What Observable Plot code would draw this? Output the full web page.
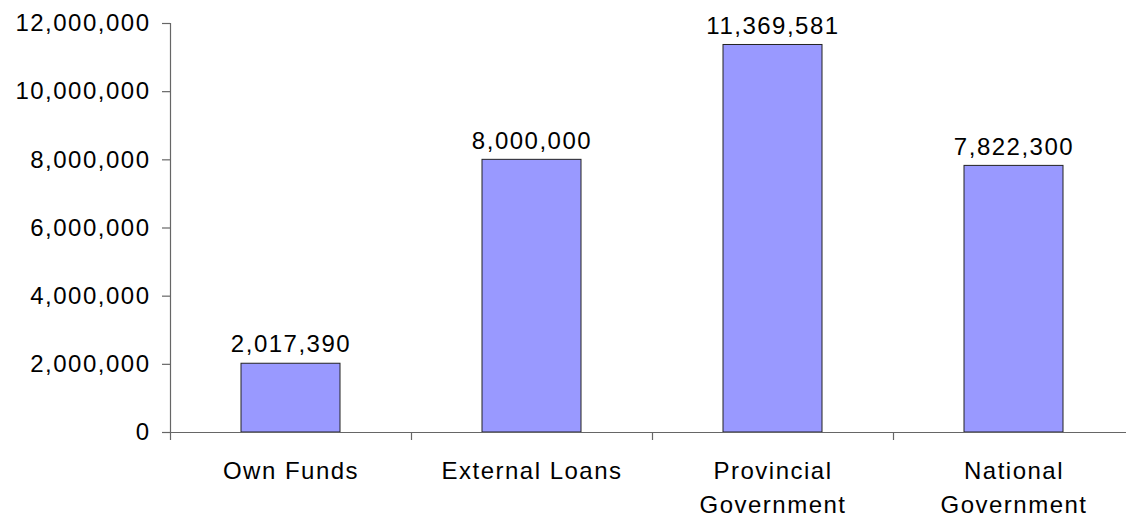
<!DOCTYPE html>
<html>
<head>
<meta charset="utf-8">
<script src="https://cdn.jsdelivr.net/npm/d3@7"></script>
<script src="https://cdn.jsdelivr.net/npm/@observablehq/plot@0.6"></script>
<style>
  html, body { margin: 0; padding: 0; background: #fff; }
  #chart svg { display: block; }
</style>
</head>
<body>
<div id="chart"></div>
<script>
const categories = ["Own Funds", "External Loans", "Provincial Government", "National Government"];
const categoryLabels = ["Own Funds", "External Loans", "Provincial\nGovernment", "National\nGovernment"];
const values = [2017390, 8000000, 11369581, 7822300];
const yTicks = [0, 2000000, 4000000, 6000000, 8000000, 10000000, 12000000];

const data = categories.map((c, i) => ({category: c, label: categoryLabels[i], value: values[i]}));
const fmt = d3.format(",");
const labelOf = new Map(categories.map((c, i) => [c, categoryLabels[i]]));

const W = 1126, H = 518;
const font = "Liberation Sans, Arial, sans-serif";
const step = 241;

const chart = Plot.plot({
  width: W,
  height: H,
  marginLeft: 170,
  marginRight: 0,
  marginTop: 23,
  marginBottom: 86,
  style: {fontFamily: font, fontSize: "24px", letterSpacing: "1.5px", color: "#000", background: "#fff", overflow: "visible"},
  x: {domain: categories, range: [170, 170 + step * categories.length], paddingInner: 0.59, paddingOuter: 0.295, align: 0.5},
  y: {domain: [0, 12000000], label: null},
  marks: [
    Plot.barY(data, {x: "category", y: "value", fill: "#9999FF", stroke: "#222", strokeWidth: 1}),
    Plot.text(data, {x: "category", y: "value", text: d => fmt(d.value), dy: -19, fill: "#000"}),
    Plot.frame({anchor: "left", stroke: "#666", strokeWidth: 1.2}),
    Plot.ruleY([0], {stroke: "#666", strokeWidth: 1.2}),
    Plot.ruleX(categories, {x: d => d, dx: -step / 2, y1: 0, y2: 0, insetBottom: -8, stroke: "#666", strokeWidth: 1.2}),
    Plot.axisY({ticks: yTicks, tickFormat: fmt, tickSize: 8, tickPadding: 12, stroke: "#666", strokeWidth: 1.2, label: null, fill: "#000"}),
    Plot.axisX({tickSize: 0, tickPadding: 22, tickFormat: d => labelOf.get(d), lineHeight: 1.42, label: null, fill: "#000"})
  ]
});
document.getElementById("chart").appendChild(chart);
</script>
</body>
</html>
